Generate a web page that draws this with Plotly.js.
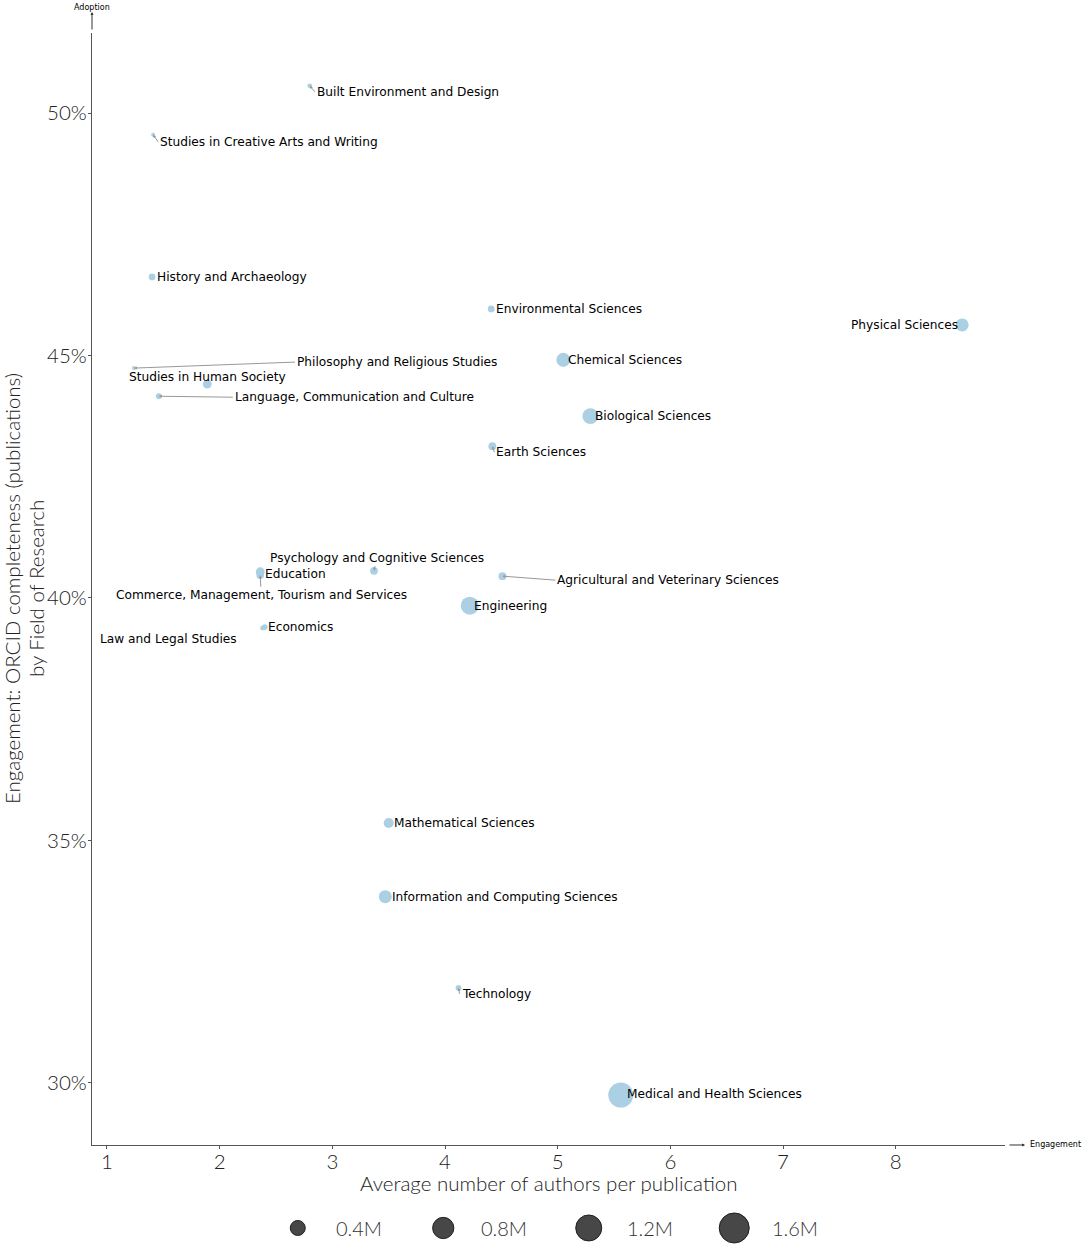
<!DOCTYPE html>
<html>
<head>
<meta charset="utf-8">
<script src="https://cdn.plot.ly/plotly-3.0.1.min.js"></script>
<style>
  html, body { margin: 0; padding: 0; background: #fff; }
  #chart { width: 1084px; height: 1246px; }
</style>
</head>
<body>
<div id="chart"></div>
<script>
// fields of research (ANZSRC divisions)
const fields = [
  'Mathematical Sciences',
  'Physical Sciences',
  'Chemical Sciences',
  'Earth Sciences',
  'Environmental Sciences',
  'Biological Sciences',
  'Agricultural and Veterinary Sciences',
  'Information and Computing Sciences',
  'Engineering',
  'Technology',
  'Medical and Health Sciences',
  'Built Environment and Design',
  'Education',
  'Economics',
  'Commerce, Management, Tourism and Services',
  'Studies in Human Society',
  'Psychology and Cognitive Sciences',
  'Law and Legal Studies',
  'Studies in Creative Arts and Writing',
  'Language, Communication and Culture',
  'History and Archaeology',
  'Philosophy and Religious Studies'
];

// average number of authors per publication
const authorsPerPub = [3.50, 8.59, 5.05, 4.42, 4.41, 5.29, 4.51, 3.47, 4.22, 4.12, 5.56,
  2.80, 2.36, 2.40, 2.36, 1.89, 3.37, 2.38, 1.41, 1.46, 1.40, 1.24];

// ORCID completeness (% of publications)
const orcidPct = [35.36, 45.63, 44.91, 43.13, 45.96, 43.75, 40.45, 33.84, 39.84, 31.96, 29.75,
  50.56, 40.54, 39.40, 40.47, 44.41, 40.56, 39.38, 49.55, 44.16, 46.62, 44.74];

// number of publications (millions)
const pubsM = [0.18, 0.30, 0.35, 0.11, 0.08, 0.45, 0.11, 0.30, 0.58, 0.06, 1.11,
  0.04, 0.14, 0.06, 0.10, 0.14, 0.11, 0.04, 0.03, 0.06, 0.08, 0.03];

const legendSizes = [0.4, 0.8, 1.2, 1.6];
const legendLabels = ['0.4M', '0.8M', '1.2M', '1.6M'];

const xTicks = [1, 2, 3, 4, 5, 6, 7, 8];
const yTicks = [30, 35, 40, 45, 50];
const yTickText = yTicks.map(v => v + '%');

// label placement in pixels relative to the point: [kind, dx, dy, xanchor]
// kind 'a' = label with a pointer line, 's' = label just shifted
const placement = {
  'Built Environment and Design': ['a', 5, 6, 'left'],
  'Studies in Creative Arts and Writing': ['a', 5, 7, 'left'],
  'History and Archaeology': ['s', 3, 0, 'left'],
  'Environmental Sciences': ['s', 3, 0, 'left'],
  'Physical Sciences': ['s', -2, 0, 'right'],
  'Chemical Sciences': ['s', 3, 0, 'left'],
  'Philosophy and Religious Studies': ['a', 161, -6, 'left'],
  'Studies in Human Society': ['s', 0, -7, 'center'],
  'Language, Communication and Culture': ['a', 74, 1, 'left'],
  'Biological Sciences': ['s', 3, 0, 'left'],
  'Earth Sciences': ['a', 2, 6, 'left'],
  'Psychology and Cognitive Sciences': ['a', 3, -13, 'center'],
  'Education': ['s', 3, 2, 'left'],
  'Agricultural and Veterinary Sciences': ['a', 53, 4, 'left'],
  'Commerce, Management, Tourism and Services': ['a', 1, 20, 'center'],
  'Engineering': ['s', 2, 0, 'left'],
  'Economics': ['s', 1, 0, 'left'],
  'Law and Legal Studies': ['s', -164, 11, 'left'],
  'Mathematical Sciences': ['s', 3, 0, 'left'],
  'Information and Computing Sciences': ['s', 5, 0, 'left'],
  'Technology': ['a', 1, 6, 'left'],
  'Medical and Health Sciences': ['s', 4, -1, 'left']
};

// plotly area sizing: diameter^2 = 2 * value / sizeref
const SIZEREF = 2 / 563;
const labelFont = { family: 'DejaVu Sans, sans-serif', size: 12.2, color: '#000', weight: 'normal' };
const thinFont = { family: 'Lato, sans-serif', size: 20.5, color: '#222', weight: 300 };
const tinyFont = { family: 'DejaVu Sans, sans-serif', size: 8, color: '#000', weight: 'normal' };

const points = {
  type: 'scatter',
  mode: 'markers',
  x: authorsPerPub,
  y: orcidPct,
  text: fields,
  xaxis: 'x',
  yaxis: 'y',
  hoverinfo: 'text',
  marker: {
    size: pubsM,
    sizemode: 'area',
    sizeref: SIZEREF,
    color: '#a6cee3',
    opacity: 0.95,
    line: { width: 0 }
  },
  showlegend: false
};

const legendPoints = {
  type: 'scatter',
  mode: 'markers',
  x: legendSizes.map((d, i) => i),
  y: legendSizes.map(() => 0),
  xaxis: 'x2',
  yaxis: 'y2',
  hoverinfo: 'skip',
  marker: {
    size: legendSizes,
    sizemode: 'area',
    sizeref: SIZEREF,
    color: '#474747',
    opacity: 1,
    line: { width: 1, color: '#1e1e1e' }
  },
  showlegend: false
};

const annotations = [];
fields.forEach((name, i) => {
  const p = placement[name];
  const a = {
    x: authorsPerPub[i], y: orcidPct[i], xref: 'x', yref: 'y',
    text: name, font: labelFont, xanchor: p[3], yanchor: 'middle'
  };
  if (p[0] === 'a') {
    Object.assign(a, {
      showarrow: true, ax: p[1], ay: p[2], arrowhead: 2, arrowsize: 0.6,
      arrowwidth: 1, arrowcolor: '#999', standoff: 0, startstandoff: 0
    });
  } else {
    Object.assign(a, { showarrow: false, xshift: p[1], yshift: -p[2] });
  }
  annotations.push(a);
});

legendLabels.forEach((lab, i) => {
  annotations.push({
    x: i, y: 0, xref: 'x2', yref: 'y2', text: lab, showarrow: false,
    xanchor: 'left', yanchor: 'middle', xshift: 36,
    font: { family: 'Lato, sans-serif', size: 20, color: '#333', weight: 300 }
  });
});

// axis titles
annotations.push({
  x: 0.5, y: 0.0519, xref: 'paper', yref: 'paper', showarrow: false,
  text: 'Average number of authors per publication',
  xanchor: 'center', yanchor: 'middle', font: thinFont
});
annotations.push({
  x: -0.0876, y: 0.5416, xref: 'paper', yref: 'paper', showarrow: false,
  text: 'Engagement: ORCID completeness (publications)', textangle: -90,
  xanchor: 'center', yanchor: 'middle', font: thinFont
});
annotations.push({
  x: -0.0613, y: 0.5416, xref: 'paper', yref: 'paper', showarrow: false,
  text: 'by Field of Research', textangle: -90,
  xanchor: 'center', yanchor: 'middle', font: thinFont
});

// axis arrows with their small captions
annotations.push({
  x: 0, y: 1.0173, xref: 'paper', yref: 'paper', text: '', showarrow: true,
  ax: 0, ay: 19, arrowhead: 2, arrowsize: 0.6, arrowwidth: 1, arrowcolor: '#333'
});
annotations.push({
  x: 0, y: 1.0214, xref: 'paper', yref: 'paper', text: 'Adoption', showarrow: false,
  xanchor: 'center', yanchor: 'middle', font: tinyFont
});
annotations.push({
  x: 1.0219, y: 0.08327, xref: 'paper', yref: 'paper', text: '', showarrow: true,
  ax: -17, ay: 0, arrowhead: 2, arrowsize: 0.6, arrowwidth: 1, arrowcolor: '#333'
});
annotations.push({
  x: 1.0252, y: 0.08327, xref: 'paper', yref: 'paper', text: 'Engagement', showarrow: false,
  xanchor: 'left', yanchor: 'middle', font: tinyFont
});

const layout = {
  width: 1084,
  height: 1246,
  margin: { l: 92, r: 79, t: 33, b: 0 },
  paper_bgcolor: '#fff',
  plot_bgcolor: '#fff',
  font: thinFont,
  xaxis: {
    domain: [0, 1],
    anchor: 'y',
    range: [0.867, 8.97],
    tickvals: xTicks,
    ticks: 'outside', ticklen: 3, tickcolor: '#555',
    ticklabelstandoff: -5,
    showline: true, linecolor: '#555', linewidth: 1.2,
    showgrid: false, zeroline: false,
    tickfont: thinFont
  },
  yaxis: {
    domain: [0.08327, 1],
    anchor: 'x',
    range: [28.72, 51.65],
    tickvals: yTicks,
    ticktext: yTickText,
    ticks: 'outside', ticklen: 3, tickcolor: '#555',
    ticklabelstandoff: -3,
    showline: true, linecolor: '#555', linewidth: 1.2,
    showgrid: false, zeroline: false,
    tickfont: thinFont
  },
  xaxis2: {
    domain: [0.1457, 0.7831], anchor: 'y2', range: [-0.5, 3.5],
    visible: false, fixedrange: true
  },
  yaxis2: {
    domain: [0, 0.0297], anchor: 'x2', range: [-1, 1],
    visible: false, fixedrange: true
  },
  annotations: annotations
};

Plotly.newPlot('chart', [points, legendPoints], layout, { displayModeBar: false, responsive: false });
</script>
</body>
</html>
